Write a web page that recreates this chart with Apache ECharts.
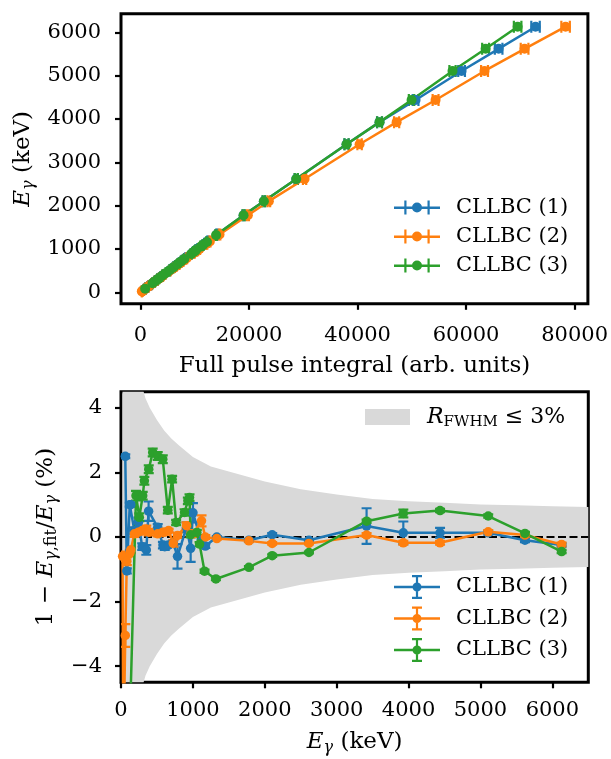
<!DOCTYPE html>
<html>
<head>
<meta charset="utf-8">
<title>CLLBC calibration</title>
<script src="https://cdn.jsdelivr.net/npm/echarts@6.0.0/dist/echarts.min.js"></script>
<style>
  html, body { margin: 0; padding: 0; background: #fff; }
  #main { width: 611px; height: 759px; }
</style>
</head>
<body>
<div id="main"></div>
<script>
// tick positions
const topXTicks = [0, 20000, 40000, 60000, 80000];
const topYTicks = [0, 1000, 2000, 3000, 4000, 5000, 6000];
const botXTicks = [0, 1000, 2000, 3000, 4000, 5000, 6000];
const botYTicks = [-4, -2, 0, 2, 4];

const names = ['CLLBC (1)', 'CLLBC (2)', 'CLLBC (3)'];
const colors = ['#1f77b4', '#ff7f0e', '#2ca02c'];

// CLLBC (1): gamma energy (keV), full pulse integral + error, residual (%) + error
const energy1 = [59.5, 81, 122, 136, 186, 242, 295, 352, 384, 511, 583, 609, 662, 727, 786, 911, 969, 1001, 1120, 1173, 1333, 1779, 2103, 2614, 3416, 3927, 4438, 5108, 5619, 6129];
const pulse1 = [620, 850, 1280, 1430, 1960, 2550, 3110, 3710, 4050, 5390, 6150, 6420, 6990, 7670, 8300, 9620, 10230, 10570, 11830, 12390, 14070, 18990, 22730, 28700, 37970, 44050, 50690, 59170, 66000, 72800];
const pulseErr1 = [6, 8, 12, 13, 18, 23, 28, 34, 37, 50, 57, 60, 65, 72, 78, 90, 96, 100, 112, 117, 135, 185, 225, 290, 390, 460, 530, 620, 700, 780];
const resid1 = [2.5, -1.05, 1.0, 1.0, 0.2, 0.45, -0.3, -0.4, 0.8, 0.3, -0.25, -0.3, -0.25, -0.2, -0.6, 0.3, -0.35, 0.75, -0.15, -0.28, 0.0, -0.1, 0.07, -0.1, 0.34, 0.13, 0.13, 0.13, -0.1, -0.25];
const residErr1 = [0.06, 0.08, 0.06, 0.06, 0.1, 0.15, 0.1, 0.15, 0.3, 0.1, 0.1, 0.1, 0.06, 0.1, 0.38, 0.15, 0.42, 0.3, 0.08, 0.06, 0.03, 0.04, 0.05, 0.03, 0.55, 0.35, 0.15, 0.06, 0.06, 0.05];

// CLLBC (2)
const energy2 = [22, 32, 59.5, 81, 122, 136, 186, 242, 295, 352, 384, 511, 583, 609, 662, 727, 786, 911, 969, 1001, 1120, 1173, 1333, 1779, 2103, 2614, 3416, 3927, 4438, 5108, 5619, 6129];
const pulse2 = [240, 350, 640, 870, 1310, 1460, 2000, 2600, 3170, 3790, 4130, 5500, 6290, 6570, 7150, 7860, 8510, 9880, 10520, 10870, 12180, 12770, 14560, 19780, 23650, 30230, 40370, 47200, 54380, 63400, 70780, 78340];
const pulseErr2 = [3, 4, 6, 9, 13, 15, 20, 26, 32, 38, 41, 55, 63, 66, 72, 79, 85, 99, 105, 109, 122, 128, 146, 198, 237, 302, 404, 472, 544, 634, 708, 783];
const resid2 = [-0.6, -7.0, -3.05, -0.75, -0.5, -0.4, 0.1, 0.15, 0.2, 0.25, 0.15, 0.1, 0.15, 0.15, 0.2, -0.2, 0.05, 0.35, 0.1, 0.1, 0.5, 0.0, -0.05, -0.12, -0.2, -0.2, 0.06, -0.18, -0.18, 0.16, 0.06, -0.23];
const residErr2 = [0.15, 0.3, 0.35, 0.12, 0.1, 0.1, 0.1, 0.08, 0.08, 0.1, 0.1, 0.08, 0.08, 0.08, 0.05, 0.1, 0.08, 0.1, 0.1, 0.1, 0.17, 0.06, 0.03, 0.04, 0.04, 0.03, 0.06, 0.06, 0.06, 0.05, 0.05, 0.06];

// CLLBC (3)
const energy3 = [81, 209, 255, 302, 325, 386, 441, 511, 581, 651, 711, 767, 884, 930, 953, 969, 1055, 1093, 1162, 1320, 1779, 2103, 2614, 3416, 3927, 4438, 5108, 5619, 6129];
const pulse3 = [850, 2200, 2690, 3180, 3420, 4060, 4640, 5380, 6120, 6860, 7490, 8080, 9320, 9800, 10040, 10210, 11120, 11520, 12250, 13920, 18990, 22730, 28700, 37970, 44050, 49950, 57500, 63600, 69500];
const pulseErr3 = [9, 22, 27, 32, 34, 41, 46, 54, 61, 69, 75, 81, 93, 98, 100, 102, 111, 115, 123, 139, 190, 227, 287, 380, 440, 500, 575, 636, 695];
const resid3 = [-9.2, 1.28, 0.61, 1.28, 1.74, 2.1, 2.62, 2.51, 2.41, 0.83, 1.79, 0.45, 0.76, 1.12, 1.22, 0.07, 0.14, -0.22, -1.06, -1.3, -0.94, -0.58, -0.48, 0.49, 0.73, 0.82, 0.65, 0.11, -0.45];
const residErr3 = [0.3, 0.15, 0.12, 0.12, 0.12, 0.12, 0.12, 0.12, 0.12, 0.1, 0.1, 0.08, 0.1, 0.1, 0.1, 0.08, 0.08, 0.06, 0.05, 0.04, 0.04, 0.04, 0.03, 0.05, 0.12, 0.05, 0.05, 0.05, 0.05];

// R_FWHM <= 3% band, half width (%) vs energy (keV)
const bandEnergy = [20, 60, 120, 200, 250, 300, 340, 400, 500, 600, 700, 800, 1000, 1250, 1500, 1750, 2000, 2500, 3000, 3500, 4000, 4500, 5000, 5500, 6000, 6500];
const bandHalf = [14, 10.5, 7.5, 5.8, 5.2, 4.62, 4.3, 4.0, 3.62, 3.3, 3.05, 2.85, 2.48, 2.18, 2.03, 1.87, 1.72, 1.48, 1.32, 1.18, 1.11, 1.06, 1.01, 0.98, 0.95, 0.93];

const zeroLine = [[0, 0], [6500, 0]];

const FONT = "'DejaVu Serif', 'Liberation Serif', serif";
const FS = 21;   // ticks, legend
const NS = 23;   // axis names
const mathRich = {
  i: { fontFamily: FONT, fontSize: NS, fontStyle: 'italic', color: '#000' },
  s: { fontFamily: FONT, fontSize: 16, fontStyle: 'italic', color: '#000', padding: [12, 0, 0, 0] },
  sr: { fontFamily: FONT, fontSize: 16, color: '#000', padding: [12, 0, 0, 0] }
};
const legRich = {
  i: { fontFamily: FONT, fontSize: 22, fontStyle: 'italic', color: '#000' },
  sr: { fontFamily: FONT, fontSize: 15, color: '#000', padding: [11, 0, 0, 0] }
};
const plain = v => String(v);
const minus = v => (v < 0 ? '\u2212' + (-v) : String(v));

// legend icons
const topIcon = 'path://M0 6H46V8.4H0Z M10.3 0H12.5V14H10.3Z M33.5 0H35.7V14H33.5Z M18 7A5 5 0 1 1 28 7A5 5 0 1 1 18 7Z';
const botIcon = 'path://M0 10.8H46V13.2H0Z M21.9 0H24.1V24H21.9Z M18 0H28V2.2H18Z M18 21.8H28V24H18Z M18.5 12A4.5 4.5 0 1 1 27.5 12A4.5 4.5 0 1 1 18.5 12Z';

function xErrBars(color) {
  return function (params, api) {
    const x = api.value(0), y = api.value(1), e = api.value(2);
    const a = api.coord([x - e, y]), b = api.coord([x + e, y]);
    const st = { stroke: color, lineWidth: 2.2 };
    return { type: 'group', children: [
      { type: 'line', shape: { x1: a[0], y1: a[1], x2: b[0], y2: b[1] }, style: st },
      { type: 'line', shape: { x1: a[0], y1: a[1] - 6, x2: a[0], y2: a[1] + 6 }, style: st },
      { type: 'line', shape: { x1: b[0], y1: b[1] - 6, x2: b[0], y2: b[1] + 6 }, style: st }
    ] };
  };
}
function yErrBars(color) {
  return function (params, api) {
    const x = api.value(0), y = api.value(1), e = api.value(2);
    const a = api.coord([x, y - e]), b = api.coord([x, y + e]);
    const st = { stroke: color, lineWidth: 2.2 };
    return { type: 'group', children: [
      { type: 'line', shape: { x1: a[0], y1: a[1], x2: b[0], y2: b[1] }, style: st },
      { type: 'line', shape: { x1: a[0] - 5, y1: a[1], x2: a[0] + 5, y2: a[1] }, style: st },
      { type: 'line', shape: { x1: b[0] - 5, y1: b[1], x2: b[0] + 5, y2: b[1] }, style: st }
    ] };
  };
}

const sets = [
  [energy1, pulse1, pulseErr1, resid1, residErr1],
  [energy2, pulse2, pulseErr2, resid2, residErr2],
  [energy3, pulse3, pulseErr3, resid3, residErr3]
];

const series = [];
series.push({
  name: 'band', type: 'custom', xAxisIndex: 1, yAxisIndex: 1, clip: true, z: 1, silent: true,
  itemStyle: { color: '#d9d9d9' },
  data: [0],
  renderItem: function (params, api) {
    const pts = [];
    for (let i = 0; i < bandEnergy.length; i++) pts.push(api.coord([bandEnergy[i], bandHalf[i]]));
    for (let i = bandEnergy.length - 1; i >= 0; i--) pts.push(api.coord([bandEnergy[i], -bandHalf[i]]));
    return { type: 'polygon', shape: { points: pts }, style: { fill: '#d9d9d9' } };
  }
});
series.push({
  type: 'line', xAxisIndex: 1, yAxisIndex: 1, z: 2, silent: true, symbol: 'none',
  data: zeroLine, lineStyle: { color: '#000', width: 2, type: [8, 3.5] }
});

sets.forEach((s, k) => {
  const [en, pu, pe, re, ree] = s;
  // top panel
  series.push({
    name: names[k], type: 'line', xAxisIndex: 0, yAxisIndex: 0, z: 3,
    symbol: 'circle', symbolSize: 10, showAllSymbol: true,
    itemStyle: { color: colors[k] }, lineStyle: { color: colors[k], width: 2.5 },
    data: en.map((e, i) => [pu[i], e])
  });
  series.push({
    type: 'custom', xAxisIndex: 0, yAxisIndex: 0, z: 3, clip: true, silent: true,
    encode: { x: 0, y: 1 },
    renderItem: xErrBars(colors[k]),
    data: en.map((e, i) => [pu[i], e, pe[i]])
  });
  // bottom panel
  series.push({
    name: names[k], type: 'line', xAxisIndex: 1, yAxisIndex: 1, z: 3,
    symbol: 'circle', symbolSize: 9.5, showAllSymbol: true,
    itemStyle: { color: colors[k] }, lineStyle: { color: colors[k], width: 2.5 },
    data: en.map((e, i) => [e, re[i]])
  });
  series.push({
    type: 'custom', xAxisIndex: 1, yAxisIndex: 1, z: 3, clip: true, silent: true,
    encode: { x: 0, y: 1 },
    renderItem: yErrBars(colors[k]),
    data: en.map((e, i) => [e, re[i], ree[i]])
  });
});

const tickStyle = { show: true, inside: false, length: 6, lineStyle: { color: '#000', width: 2.2 } };
const labelStyle = { color: '#000', fontFamily: FONT, fontSize: FS };
const nameStyle = { color: '#000', fontFamily: FONT, fontSize: NS, rich: mathRich };
const noLine = { show: false, onZero: false };

const chart = echarts.init(document.getElementById('main'), null, { renderer: 'canvas' });
chart.setOption({
  animation: false,
  backgroundColor: '#fff',
  grid: [
    { left: 121, right: 22.7, top: 13.8, height: 290, show: true, borderColor: '#000', borderWidth: 3, backgroundColor: 'transparent' },
    { left: 121, right: 22.7, top: 391.7, height: 290.6, show: true, borderColor: '#000', borderWidth: 3, backgroundColor: 'transparent' }
  ],
  xAxis: [
    {
      type: 'value', gridIndex: 0, min: -3600, max: 82450,
      axisLine: noLine, splitLine: { show: false },
      axisTick: Object.assign({ customValues: topXTicks }, tickStyle),
      axisLabel: Object.assign({ customValues: topXTicks, margin: 21, formatter: plain }, labelStyle),
      name: 'Full pulse integral (arb. units)', nameLocation: 'middle', nameGap: 51,
      nameTextStyle: nameStyle
    },
    {
      type: 'value', gridIndex: 1, min: 0, max: 6500,
      axisLine: noLine, splitLine: { show: false },
      axisTick: Object.assign({ customValues: botXTicks }, tickStyle),
      axisLabel: Object.assign({ customValues: botXTicks, margin: 18, formatter: plain }, labelStyle),
      name: '{i|E}{s|\u03b3} (keV)', nameLocation: 'middle', nameGap: 46,
      nameTextStyle: nameStyle
    }
  ],
  yAxis: [
    {
      type: 'value', gridIndex: 0, min: -265, max: 6427,
      axisLine: noLine, splitLine: { show: false },
      axisTick: Object.assign({ customValues: topYTicks }, tickStyle),
      axisLabel: Object.assign({ customValues: topYTicks, margin: 20, formatter: plain }, labelStyle),
      name: '{i|E}{s|\u03b3} (keV)', nameLocation: 'middle', nameGap: 81,
      nameTextStyle: nameStyle
    },
    {
      type: 'value', gridIndex: 1, min: -4.5, max: 4.5,
      axisLine: noLine, splitLine: { show: false },
      axisTick: Object.assign({ customValues: botYTicks }, tickStyle),
      axisLabel: Object.assign({ customValues: botYTicks, margin: 19, formatter: minus }, labelStyle),
      name: '1 \u2212 {i|E}{s|\u03b3}{sr|,fit}/{i|E}{s|\u03b3} (%)', nameLocation: 'middle', nameGap: 61,
      nameTextStyle: nameStyle
    }
  ],
  legend: [
    {
      selectedMode: false, orient: 'vertical', left: 394, top: 197, padding: 0,
      itemWidth: 46, itemHeight: 14, itemGap: 8,
      textStyle: { color: '#000', fontFamily: FONT, fontSize: FS, padding: [0, 0, 0, 11] },
      data: names.map((n, i) => ({ name: n, icon: topIcon, itemStyle: { color: colors[i], borderWidth: 0 } }))
    },
    {
      selectedMode: false, orient: 'vertical', left: 394, top: 575, padding: 0,
      itemWidth: 46, itemHeight: 24, itemGap: 7.5,
      textStyle: { color: '#000', fontFamily: FONT, fontSize: FS, padding: [0, 0, 0, 11] },
      data: names.map((n, i) => ({ name: n, icon: botIcon, itemStyle: { color: colors[i], borderWidth: 0 } }))
    },
    {
      selectedMode: false, left: 365, top: 406, padding: 0,
      itemWidth: 45, itemHeight: 16,
      formatter: () => '{i|R}{sr|FWHM} \u2264 3%',
      textStyle: { color: '#000', fontFamily: FONT, fontSize: 22, padding: [0, 0, 0, 12], rich: legRich },
      data: [{ name: 'band', icon: 'rect', itemStyle: { color: '#d9d9d9', borderWidth: 0 } }]
    }
  ],
  series: series
});
</script>
</body>
</html>
